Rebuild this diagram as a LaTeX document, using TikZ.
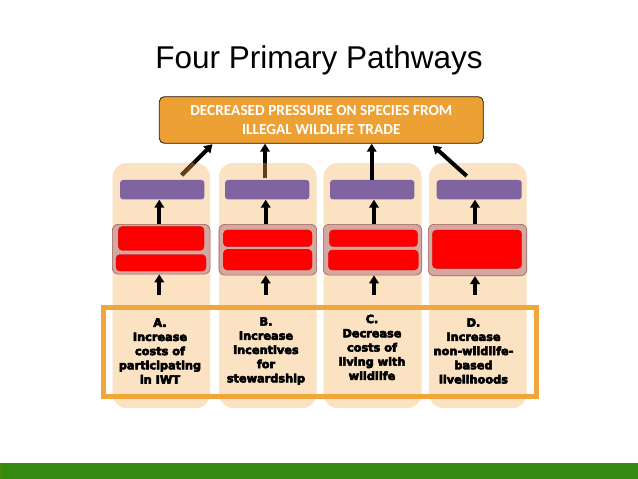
\documentclass[tikz,border=0pt]{standalone}
\usepackage{fontspec}
\setmainfont{Liberation Sans}
\newfontfamily\titlefont{Liberation Sans}
\newfontfamily\boxfont{Carlito}
\newfontfamily\heavyfont[FakeBold=5]{DejaVu Sans Bold}
\usetikzlibrary{arrows.meta}
\definecolor{tancol}{RGB}{251,226,194}
\definecolor{topor}{RGB}{237,161,53}
\definecolor{frameor}{RGB}{240,166,58}
\definecolor{purp}{RGB}{128,100,162}
\definecolor{rose}{RGB}{214,167,160}
\definecolor{roseedge}{RGB}{150,98,88}
\definecolor{brownseg}{RGB}{100,64,24}
\definecolor{greenbar}{RGB}{52,137,16}
\tikzset{
  colbox/.style={fill=tancol, draw=none, rounded corners=14pt, inner sep=0pt},
  purpbox/.style={fill=purp, draw=none, rounded corners=3pt, inner sep=0pt, minimum height=19.5pt},
  rosebox/.style={fill=rose, draw=roseedge, line width=0.6pt, rounded corners=6pt, inner sep=0pt},
  redbox/.style={fill=red, draw=red!80!black, line width=0.3pt, rounded corners=4pt, inner sep=0pt},
  arr/.style={line width=4pt, black, -{Triangle[width=9.5pt,length=8pt]}},
  brownpart/.style={line width=4pt, brownseg, line cap=butt},
  pathtext/.style={align=center, text=black, font=\heavyfont\fontsize{11.3}{14.2}\selectfont, inner sep=0pt},
}
\begin{document}
\begin{tikzpicture}[x=1pt,y=-1pt]
\useasboundingbox (0,0) rectangle (638,479);
\fill[white] (0,0) rectangle (638,479);
% title
\node[anchor=base, inner sep=0pt, font=\titlefont\fontsize{31.5}{36}\selectfont] (title) at (319,68) {Four Primary Pathways};
% green bar
\node[fill=greenbar, draw=greenbar!70!olive, line width=0.5pt, minimum width=638pt, minimum height=16pt, inner sep=0pt] (bar) at (319,471) {};
% columns
\node[colbox, minimum width=97.5pt, minimum height=245pt] (c1) at (161.25,285.5) {};
\node[colbox, minimum width=97.5pt, minimum height=245pt] (c2) at (267.75,285.5) {};
\node[colbox, minimum width=98pt, minimum height=245pt] (c3) at (372.5,285.5) {};
\node[colbox, minimum width=97.5pt, minimum height=245pt] (c4) at (477.75,285.5) {};
% top box
\node[fill=topor, draw=black!80!brown, line width=0.8pt, rounded corners=5pt, minimum width=324pt, minimum height=46.6pt, inner sep=0pt,
  align=center, text=white, font=\boxfont\bfseries\fontsize{15.3}{19.4}\selectfont] (top) at (321.3,120) {DECREASED PRESSURE ON SPECIES FROM\\ILLEGAL WILDLIFE TRADE};
% purple boxes
\node[purpbox, minimum width=84.3pt] (p1) at (162.2,189.7) {};
\node[purpbox, minimum width=84.3pt] (p2) at (267.2,189.7) {};
\node[purpbox, minimum width=84.3pt] (p3) at (372.2,189.7) {};
\node[purpbox, minimum width=85pt] (p4) at (479.2,189.7) {};
% rose containers
\node[rosebox, minimum width=97.7pt, minimum height=49.7pt] (k1) at (161.2,249.2) {};
\node[rosebox, minimum width=97.7pt, minimum height=50.7pt] (k2) at (267.8,249.7) {};
\node[rosebox, minimum width=98.4pt, minimum height=50.7pt] (k3) at (372.5,249.7) {};
\node[rosebox, minimum width=98.4pt, minimum height=51.4pt] (k4) at (477.5,250) {};
% red boxes
\node[redbox, minimum width=85.7pt, minimum height=24pt] (r1a) at (161.2,238.4) {};
\node[redbox, minimum width=90pt, minimum height=16.5pt] (r1b) at (161,262.8) {};
\node[redbox, minimum width=88.7pt, minimum height=16.7pt] (r2a) at (267.7,238.3) {};
\node[redbox, minimum width=88.7pt, minimum height=20.7pt] (r2b) at (267.7,259.7) {};
\node[redbox, minimum width=88.4pt, minimum height=16.7pt] (r3a) at (373.5,238.3) {};
\node[redbox, minimum width=90pt, minimum height=20pt] (r3b) at (373.3,260) {};
\node[redbox, minimum width=89.4pt, minimum height=38.3pt] (r4) at (477,249.2) {};
% bottom frame
\node[draw=frameor, line width=5pt, minimum width=432.5pt, minimum height=88.5pt, inner sep=0pt] (frame) at (319.75,351.75) {};
% pathway texts
\node[pathtext] (tA) at (160,351) {A.\\Increase\\costs of\\participating\\in IWT};
\node[pathtext] (tB) at (266,351) {B.\\Increase\\incentives\\for\\stewardship};
\node[pathtext] (tC) at (372,347.4) {C.\\Decrease\\costs of\\living with\\wildlife};
\node[pathtext] (tD) at (473.5,351) {D.\\Increase\\non-wildlife-\\based\\livelihoods};
% coordinates for arrows
\coordinate (s1) at (181.7,175);
\coordinate (e1) at (212.5,144.2);
\coordinate (m1) at (193.7,163);
\coordinate (s2) at (265,177.5);
\coordinate (m2) at (265,163);
\coordinate (s3) at (371.7,179.5);
\coordinate (s4) at (466.7,176);
\coordinate (e4) at (432.8,145.5);
\coordinate (b1) at (159.3,294.5);
\coordinate (b2) at (265.7,294.5);
\coordinate (b3) at (374,294.5);
\coordinate (b4) at (475,294.5);
% top arrows
\draw[arr] (s1) -- (e1);
\draw[brownpart] (s1) -- (m1);
\draw[arr] (s2) -- (s2 |- top.south);
\draw[brownpart] (s2) -- (m2);
\draw[arr] (s3) -- (s3 |- top.south);
\draw[arr] (s4) -- (e4);
% middle arrows
\draw[arr] (b1 |- k1.north) -- (b1 |- p1.south);
\draw[arr] (b2 |- k2.north) -- (b2 |- p2.south);
\draw[arr] (b3 |- k3.north) -- (b3 |- p3.south);
\draw[arr] (b4 |- k4.north) -- (b4 |- p4.south);
% bottom arrows
\draw[arr] (b1) -- (b1 |- k1.south);
\draw[arr] (b2) -- (b2 |- k2.south);
\draw[arr] (b3) -- (b3 |- k3.south);
\draw[arr] (b4) -- (b4 |- k4.south);
\end{tikzpicture}
\end{document}
